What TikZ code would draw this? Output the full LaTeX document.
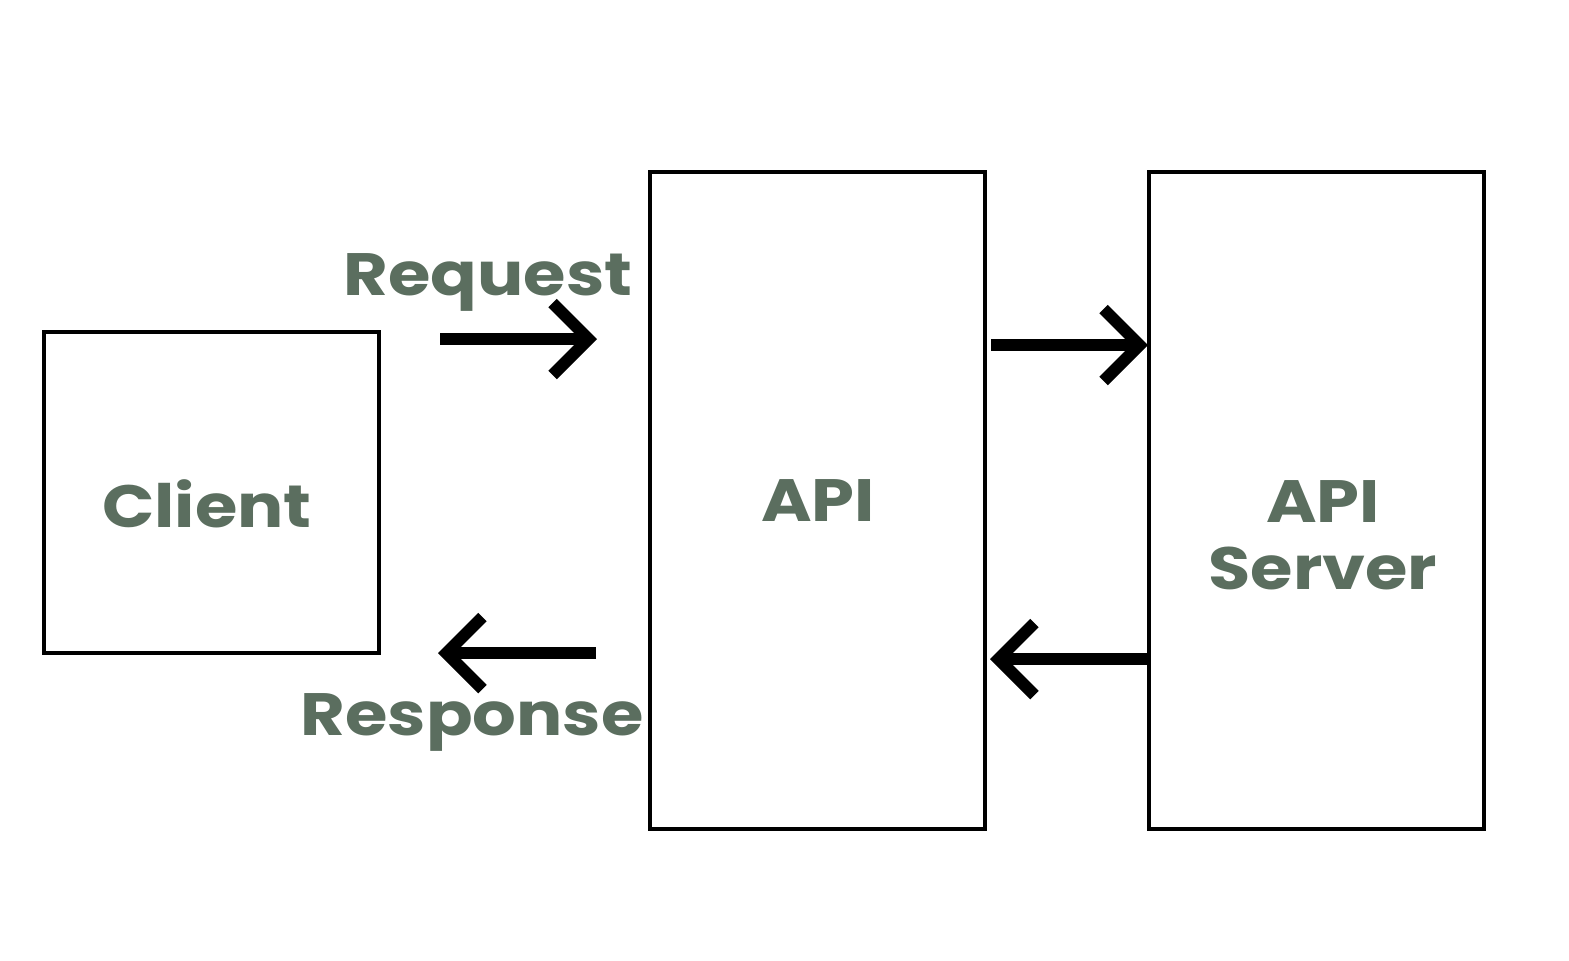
\documentclass[tikz,border=0pt]{standalone}
\usepackage{fontspec}
\usepackage{tikz}
\usetikzlibrary{arrows.meta, positioning, calc}
\newfontfamily\labelfont{Poppins}[FakeStretch=1.15]
\definecolor{sagegray}{HTML}{5B6E5F}

\tikzset{
  block/.style={draw=black, line width=1pt, minimum width=3.35cm, inner sep=0pt},
  flow/.style={line width=1.2mm, -{Straight Barb[length=3.6mm, width=7.2mm]}},
  caption/.style={text=sagegray, font=\labelfont\bfseries\fontsize{17}{19}\selectfont, inner sep=0pt}
}

\begin{document}
\begin{tikzpicture}
  \useasboundingbox (0,0) rectangle (15.69,-9.6);

  % the three boxes
  \node[block, minimum height=3.21cm] (client) at (2.115,-4.925) {};
  \node[block, minimum height=6.57cm] (api) at (8.175,-5.005) {};
  \node[block, minimum height=6.57cm] (server) at (13.165,-5.005) {};

  % texts
  \node[caption, anchor=base] (clienttxt) at (2.07,-5.27) {Client};
  \node[caption, anchor=base] (apitxt) at (8.18,-5.21) {API};
  \node[caption, align=center] (servertxt) at (13.23,-5.35) {API\\Server};
  \node[caption, anchor=base] (reqtxt) at (4.88,-2.95) {Request};
  \node[caption, anchor=base] (restxt) at (4.72,-7.35) {Response};

  % arrow ends
  \coordinate (reqa) at (4.40,-3.39);
  \coordinate (reqb) at (5.97,-3.39);
  \coordinate (resa) at (5.96,-6.53);
  \coordinate (resb) at (4.38,-6.53);
  \coordinate (fwda) at (9.91,-3.45);
  \coordinate (fwdb) at (11.48,-3.45);
  \coordinate (backa) at (11.47,-6.59);
  \coordinate (backb) at (9.90,-6.59);

  \draw[flow] (reqa) -- (reqb);
  \draw[flow] (resa) -- (resb);
  \draw[flow] (fwda) -- (fwdb);
  \draw[flow] (backa) -- (backb);
\end{tikzpicture}
\end{document}
